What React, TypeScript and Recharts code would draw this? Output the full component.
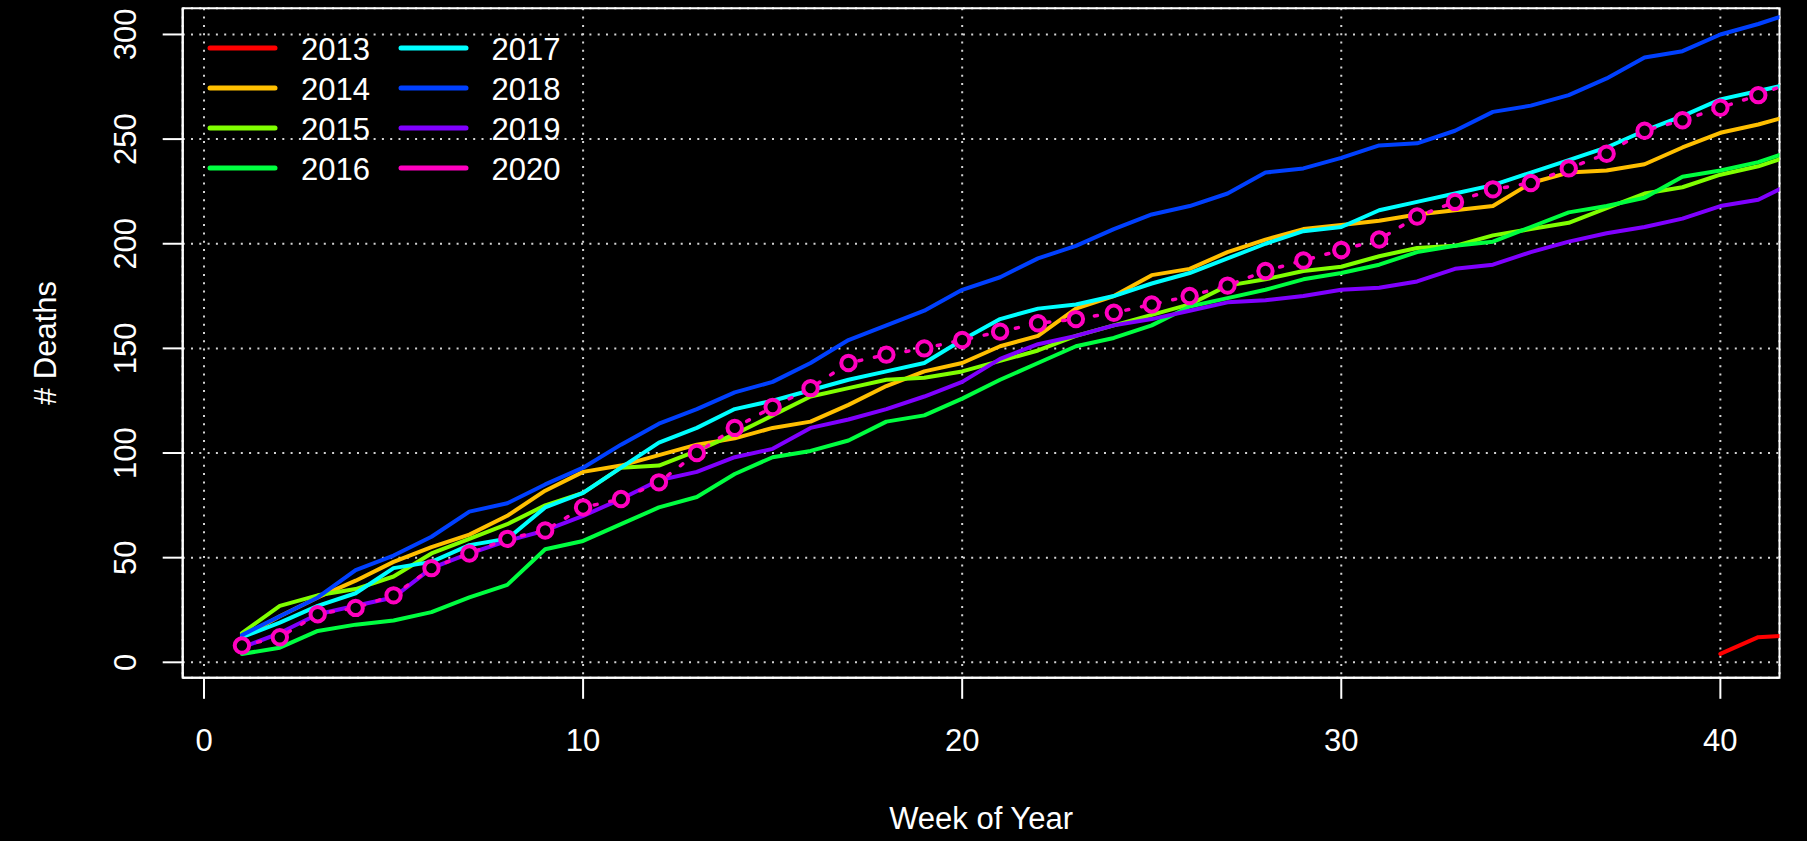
import { LineChart, Line, XAxis, YAxis, CartesianGrid, ReferenceArea } from "recharts";

const weeks = [
  1, 2, 3, 4, 5, 6, 7, 8, 9, 10, 11, 12, 13, 14, 15, 16, 17, 18, 19, 20, 21,
  22, 23, 24, 25, 26, 27, 28, 29, 30, 31, 32, 33, 34, 35, 36, 37, 38, 39, 40, 41, 42,
];

// 2013 only starts at week 40
const weeks2013 = [40, 41, 42];
const deaths2013 = [4, 12, 13];

const deaths2014 = [
  12, 22, 31, 39, 48, 55, 61, 70, 82, 91, 94, 99, 104, 107, 112, 115, 123, 132, 139, 143, 151,
  156, 169, 175, 185, 188, 196, 202, 207, 209, 211, 214, 216, 218, 229, 234, 235, 238, 246, 253, 257, 262,
];
const deaths2015 = [
  14, 27, 32, 35, 41, 52, 59, 66, 75, 81, 93, 94, 101, 109, 118, 127, 131, 135, 136, 139, 144,
  149, 156, 161, 166, 171, 180, 183, 187, 189, 194, 198, 199, 204, 207, 210, 217, 224, 227, 233, 237, 243,
];
const deaths2016 = [
  4, 7, 15, 18, 20, 24, 31, 37, 54, 58, 66, 74, 79, 90, 98, 101, 106, 115, 118, 126, 135,
  143, 151, 155, 161, 170, 174, 178, 183, 186, 190, 196, 199, 201, 208, 215, 218, 222, 232, 235, 239, 245,
];
const deaths2017 = [
  12, 19, 27, 33, 45, 48, 56, 59, 74, 81, 93, 105, 112, 121, 125, 130, 135, 139, 143, 154, 164,
  169, 171, 175, 181, 186, 193, 200, 206, 208, 216, 220, 224, 228, 234, 240, 246, 254, 261, 269, 273, 277,
];
const deaths2018 = [
  13, 22, 31, 44, 51, 60, 72, 76, 85, 93, 104, 114, 121, 129, 134, 143, 154, 161, 168, 178, 184,
  193, 199, 207, 214, 218, 224, 234, 236, 241, 247, 248, 254, 263, 266, 271, 279, 289, 292, 300, 305, 311,
];
const deaths2019 = [
  7, 14, 23, 27, 31, 45, 52, 58, 63, 70, 78, 87, 91, 98, 102, 112, 116, 121, 127, 134, 145,
  152, 156, 161, 164, 168, 172, 173, 175, 178, 179, 182, 188, 190, 196, 201, 205, 208, 212, 218, 221, 230,
];
const deaths2020 = [
  8, 12, 23, 26, 32, 45, 52, 59, 63, 74, 78, 86, 100, 112, 122, 131, 143, 147, 150, 154, 158,
  162, 164, 167, 171, 175, 180, 187, 192, 197, 202, 213, 220, 226, 229, 236, 243, 254, 259, 265, 271, 278,
];

const years = ["2013", "2014", "2015", "2016", "2017", "2018", "2019", "2020"];
const colors = ["#FF0000", "#FFBF00", "#80FF00", "#00FF40", "#00FFFF", "#0040FF", "#8000FF", "#FF00BF"];

const xTicks = [0, 10, 20, 30, 40];
const yTicks = [0, 50, 100, 150, 200, 250, 300];
const xDomain = [-0.562, 41.56];
const yDomain = [-7.4, 312.5];

const FONT = "'Liberation Sans', Arial, Helvetica, sans-serif";
const FS = 31;

const series = [deaths2014, deaths2015, deaths2016, deaths2017, deaths2018, deaths2019, deaths2020];

const data = weeks.map((w, i) => {
  const row: Record<string, number | null> = { week: w };
  const k = weeks2013.indexOf(w);
  row["y2013"] = k >= 0 ? deaths2013[k] : null;
  series.forEach((s, j) => {
    row["y" + years[j + 1]] = s[i];
  });
  return row;
});

const XTick = (props: any) => (
  <text x={props.x} y={751} textAnchor="middle" fill="#fff" fontSize={FS} fontFamily={FONT}>
    {props.payload.value}
  </text>
);

const YTick = (props: any) => (
  <text
    x={136}
    y={props.y}
    transform={`rotate(-90 136 ${props.y})`}
    textAnchor="middle"
    fill="#fff"
    fontSize={FS}
    fontFamily={FONT}
  >
    {props.payload.value}
  </text>
);

const xTitle = (props: any) => {
  const vb = props.viewBox || {};
  return (
    <text x={vb.x + vb.width / 2} y={829} textAnchor="middle" fill="#fff" fontSize={FS} fontFamily={FONT}>
      Week of Year
    </text>
  );
};

const yTitle = (props: any) => {
  const vb = props.viewBox || {};
  const cy = vb.y + vb.height / 2;
  return (
    <text x={56} y={cy} transform={`rotate(-90 56 ${cy})`} textAnchor="middle" fill="#fff" fontSize={FS} fontFamily={FONT}>
      # Deaths
    </text>
  );
};

function LegendBox() {
  const rowsY = [48, 88, 128, 168];
  const cols = [
    { x1: 210, x2: 275, tx: 301 },
    { x1: 401, x2: 466, tx: 491.5 },
  ];
  return (
    <svg
      width={1807}
      height={841}
      style={{ position: "absolute", left: 0, top: 0, pointerEvents: "none" }}
    >
      {years.map((yr, i) => {
        const c = cols[Math.floor(i / 4)];
        const y = rowsY[i % 4];
        return (
          <g key={yr}>
            <line x1={c.x1} x2={c.x2} y1={y} y2={y} stroke={colors[i]} strokeWidth={5} strokeLinecap="round" />
            <text x={c.tx} y={y + 11.5} fill="#fff" fontSize={FS} fontFamily={FONT}>
              {yr}
            </text>
          </g>
        );
      })}
    </svg>
  );
}

export default function App() {
  return (
    <div style={{ position: "absolute", left: 0, top: 0, width: 1807, height: 841, background: "#000" }}>
      <LineChart width={1807} height={841} data={data} margin={{ top: 8.3, right: 27.5, bottom: 0, left: 0 }}>
        <CartesianGrid stroke="#D3D3D3" strokeDasharray="2 6.3" strokeWidth={2} />
        <XAxis
          dataKey="week"
          type="number"
          domain={xDomain}
          allowDataOverflow
          ticks={xTicks}
          height={163.2}
          tick={XTick}
          tickSize={21}
          tickLine={{ stroke: "#fff", strokeWidth: 2 }}
          axisLine={{ stroke: "#fff", strokeWidth: 2 }}
          label={xTitle}
        />
        <YAxis
          type="number"
          domain={yDomain}
          allowDataOverflow
          ticks={yTicks}
          width={182.7}
          tick={YTick}
          tickSize={20}
          tickLine={{ stroke: "#fff", strokeWidth: 2 }}
          axisLine={{ stroke: "#fff", strokeWidth: 2 }}
          label={yTitle}
        />
        {years.slice(0, 7).map((yr, i) => (
          <Line
            key={yr}
            dataKey={"y" + yr}
            stroke={colors[i]}
            strokeWidth={4}
            strokeLinejoin="round"
            strokeLinecap="round"
            dot={false}
            activeDot={false}
            isAnimationActive={false}
          />
        ))}
        <Line
          dataKey="y2020"
          stroke={colors[7]}
          strokeWidth={3.5}
          strokeDasharray="3 13"
          strokeLinecap="round"
          dot={{ r: 7.2, stroke: colors[7], strokeWidth: 4, fill: "#000", strokeDasharray: "none" }}
          activeDot={false}
          isAnimationActive={false}
        />
        <ReferenceArea
          x1={xDomain[0]}
          x2={xDomain[1]}
          y1={yDomain[0]}
          y2={yDomain[1]}
          fill="none"
          stroke="#fff"
          strokeWidth={2}
          ifOverflow="visible"
        />
      </LineChart>
      <LegendBox />
    </div>
  );
}
